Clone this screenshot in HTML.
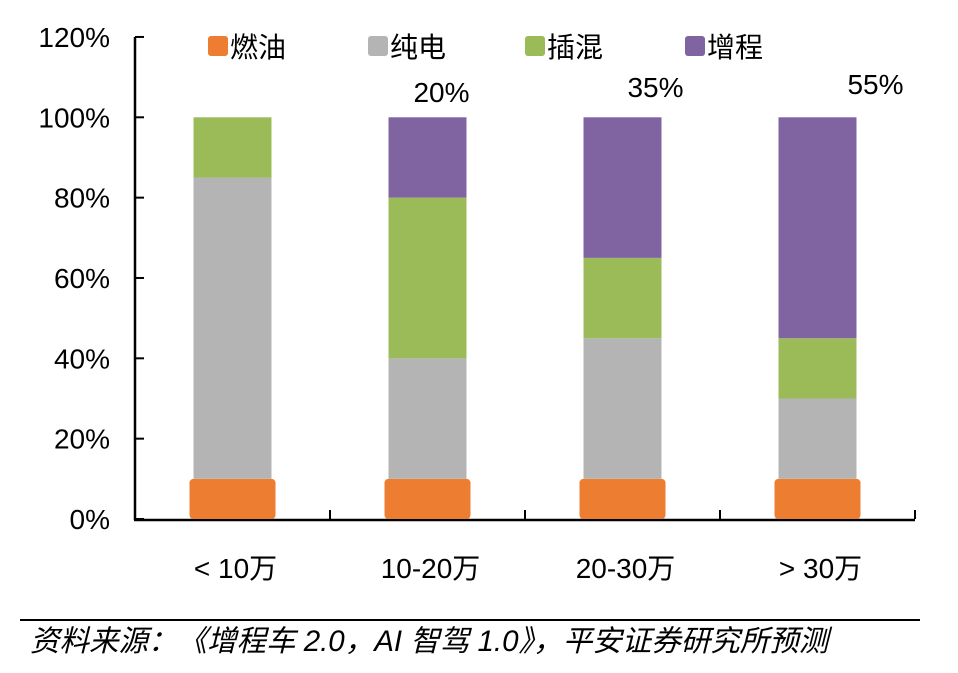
<!DOCTYPE html>
<html><head><meta charset="utf-8"><style>
body{margin:0;background:#fff;width:958px;height:668px;overflow:hidden;font-family:"Liberation Sans","Noto Sans CJK SC",sans-serif}
</style></head><body>
<svg width="958" height="668" font-family="Liberation Sans, Noto Sans CJK SC, sans-serif">
<g id="axes"></g><g id="bars"></g><g id="legend"></g>
<line x1="20" y1="620" x2="920" y2="620" stroke="#000" stroke-width="2"/>
<text x="30" y="651" font-size="29.5" font-style="italic">资料来源：《增程车 2.0，AI 智驾 1.0》，平安证券研究所预测</text>
</svg>
<script>
const categories=["< 10万","10-20万","20-30万","> 30万"];
const fuel=[10,10,10,10];
const ev=[75,30,35,20];
const phev=[15,40,20,15];
const erev=[0,20,35,55];
const erevLabels=["","20%","35%","55%"];
const yTicks=[0,20,40,60,80,100,120];
const seriesNames=["燃油","纯电","插混","增程"];
const colors=["#ED7D31","#B4B4B4","#9BBB59","#8064A2"];
const labelDx=[0,14,33,58];
const labelY=[0,102,97,94];
const NS="http://www.w3.org/2000/svg";
const x0=135,catW=195,yBase=519,pxPer=4.017;
const y=v=>yBase-v*pxPer;
const cx=i=>x0+catW*(i+0.5);
function mk(t,a,p){const e=document.createElementNS(NS,t);for(const k in a)e.setAttribute(k,a[k]);p.appendChild(e);return e;}
const ax=document.getElementById('axes');
let l=mk('line',{x1:x0,y1:y(120),x2:x0,y2:yBase+1,stroke:'#000','stroke-width':2.5},ax);


l=mk('line',{x1:x0-1,y1:yBase+1,x2:x0+catW*4,y2:yBase+1,stroke:'#000','stroke-width':2.5},ax);


yTicks.forEach(v=>{
 mk('line',{x1:x0,y1:y(v),x2:x0+9,y2:y(v),stroke:'#000','stroke-width':2},ax);
 const t=mk('text',{x:x0-25,y:y(v)+10,'font-size':28,'text-anchor':'end'},ax);t.textContent=v+'%';
 
 
});
categories.forEach((c,i)=>{
 mk('line',{x1:x0+catW*(i+1),y1:yBase-9,x2:x0+catW*(i+1),y2:yBase,stroke:'#000','stroke-width':2},ax);
 const t=mk('text',{x:cx(i)+3,y:578,'font-size':28,'text-anchor':'middle'},ax);t.textContent=c;
 
 
});
const bg=document.getElementById('bars');
const series=[fuel,ev,phev,erev];
categories.forEach((c,i)=>{
 let acc=0;
 series.forEach((s,k)=>{
  const v=s[i];if(!v){return;}
  const w=k===0?86:78;
  const r=mk('rect',{x:cx(i)-w/2,y:y(acc+v),width:w,height:v*pxPer,fill:colors[k],rx:k===0?4:0},bg);
  
  
  acc+=v;
 });
 if(erevLabels[i]){
  const t=mk('text',{x:cx(i)+labelDx[i],y:labelY[i],'font-size':28,'text-anchor':'middle'},bg);t.textContent=erevLabels[i];
  
  
 }
});
const lg=document.getElementById('legend');
const lx=[208,368,525,685];
seriesNames.forEach((n,k)=>{
 const g=mk('g',{},lg);
 
 
 mk('rect',{x:lx[k],y:36,width:20,height:20,rx:3,fill:colors[k]},g);
 const t=mk('text',{x:lx[k]+22,y:57,'font-size':28},g);t.textContent=n;
});
</script>
</body></html>
